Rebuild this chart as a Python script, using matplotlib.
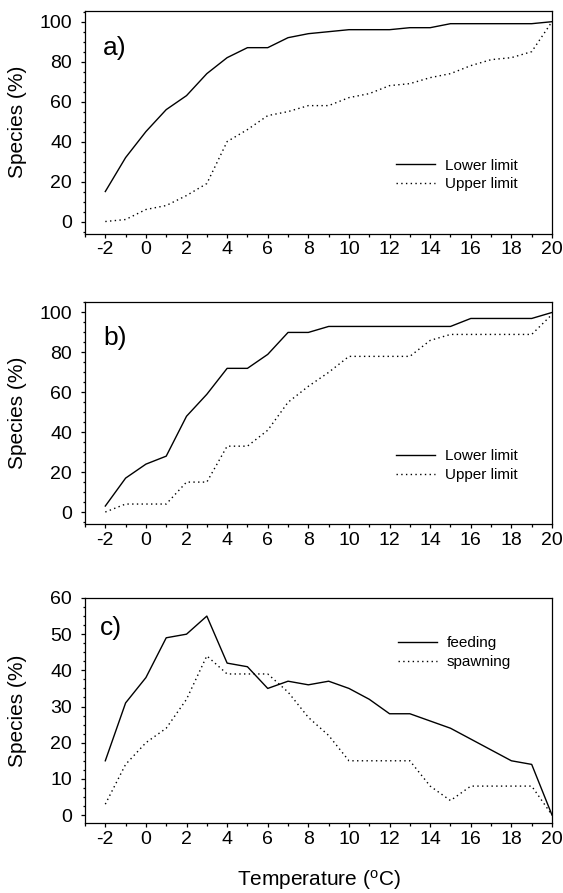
import matplotlib
matplotlib.use("Agg")
import matplotlib.pyplot as plt
from matplotlib.ticker import MultipleLocator

plt.rcParams['font.family'] = ['Liberation Sans', 'DejaVu Sans']
plt.rcParams['mathtext.default'] = 'regular'
plt.rcParams['axes.unicode_minus'] = False

temps = list(range(-2, 21))

a_lower = [15, 32, 45, 56, 63, 74, 82, 87, 87, 92, 94, 95, 96, 96, 96, 97, 97, 99, 99, 99, 99, 99, 100]
a_upper = [0, 1, 6, 8, 13, 19, 40, 46, 53, 55, 58, 58, 62, 64, 68, 69, 72, 74, 78, 81, 82, 85, 100]

b_lower = [3, 17, 24, 28, 48, 59, 72, 72, 79, 90, 90, 93, 93, 93, 93, 93, 93, 93, 97, 97, 97, 97, 100]
b_upper = [0, 4, 4, 4, 15, 15, 33, 33, 41, 55, 63, 70, 78, 78, 78, 78, 86, 89, 89, 89, 89, 89, 99]

c_feeding = [15, 31, 38, 49, 50, 55, 42, 41, 35, 37, 36, 37, 35, 32, 28, 28, 26, 24, 21, 18, 15, 14, 0]
c_spawning = [3, 14, 20, 24, 32, 44, 39, 39, 39, 34, 27, 22, 15, 15, 15, 15, 8, 4, 8, 8, 8, 8, 0]

panel_labels = ["a)", "b)", "c)"]
legend_ab = ["Lower limit", "Upper limit"]
legend_c = ["feeding", "spawning"]
xlabel = "Temperature ($^{o}$C)"
ylabel = "Species (%)"

W, H = 563, 893
fig = plt.figure(figsize=(W / 100, H / 100), dpi=100)

def add_ax(top, bottom, left=85, right=552):
    return fig.add_axes([left / W, 1 - bottom / H, (right - left) / W, (bottom - top) / H])

axes = [add_ax(10.7, 233.5), add_ax(301.5, 524), add_ax(598, 823)]
series = [(a_lower, a_upper, legend_ab), (b_lower, b_upper, legend_ab), (c_feeding, c_spawning, legend_c)]
ylims = [(-6, 105.5), (-6, 105.5), (-2.2, 60)]
ymajor = [20, 20, 10]
yminor = [5, 5, 2.5]
# legend anchor (x, y) in data coords: upper-left of legend
leg_anchor = [(12.3, 31.5), (12.3, 31.5), (12.4, 49.5)]
label_pos = [(-2.1, 87), (-2.1, 87), (-2.25, 51.7)]

for i, ax in enumerate(axes):
    s1, s2, labs = series[i]
    ax.plot(temps, s1, color='black', lw=1.0, label=labs[0])
    ax.plot(temps, s2, color='black', lw=1.0, linestyle=(0, (1, 2.4)), label=labs[1])
    ax.set_xlim(-3, 20)
    ax.set_ylim(*ylims[i])
    ax.set_xticks(range(-2, 21, 2))
    ax.xaxis.set_minor_locator(MultipleLocator(1))
    ax.set_yticks([v for v in range(0, int(ylims[i][1]) + 1, ymajor[i])])
    ax.yaxis.set_minor_locator(MultipleLocator(yminor[i]))
    ax.tick_params(which='major', direction='out', length=3.2, width=0.9, labelsize=14, pad=2.5)
    ax.tick_params(which='minor', direction='out', length=1.8, width=0.9)
    ax.tick_params(axis='y', which='major', pad=6)
    ax.tick_params(top=False, right=False)
    for sp in ax.spines.values():
        sp.set_linewidth(0.9)
    ax.set_ylabel(ylabel, fontsize=15)
    ax.yaxis.set_label_coords(-0.124, 0.5)
    ax.text(label_pos[i][0], label_pos[i][1], panel_labels[i], transform=ax.transData,
            fontsize=19, va='center', ha='left')
    ax.legend(frameon=False, loc='upper left', bbox_to_anchor=leg_anchor[i],
              bbox_transform=ax.transData, borderaxespad=0, borderpad=0,
              handlelength=2.6, handletextpad=0.6, labelspacing=0.32, fontsize=11)

fig.text(318.5 / W, 1 - 880 / H, xlabel, ha='center', va='center', fontsize=15)

fig.savefig("out.png", dpi=100)
